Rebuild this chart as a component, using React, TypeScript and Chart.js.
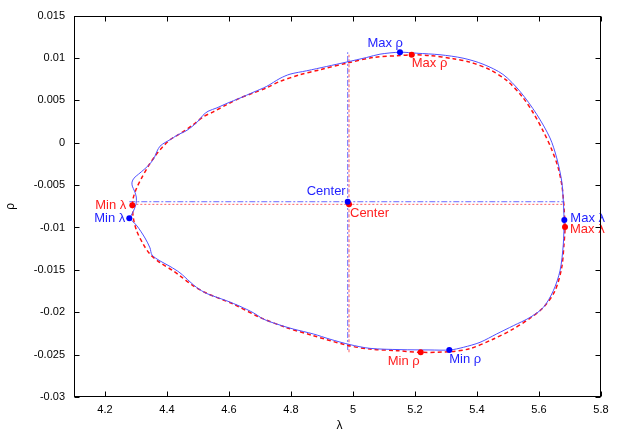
import React, { useEffect, useRef } from 'react';
import { Chart, registerables } from 'chart.js';

Chart.register(...registerables);

// ---- Data ----
const blueLambda = [
  4.2790, 4.2903, 4.3000, 4.3010, 4.2952, 4.2881, 4.2871, 4.2935, 4.3081, 4.3290,
  4.3468, 4.3597, 4.3677, 4.3774, 4.3935, 4.4097, 4.4323, 4.4645, 4.4968, 4.5161,
  4.5323, 4.5613, 4.5935, 4.6355, 4.6774, 4.7216, 4.7645, 4.7968, 4.8506, 4.9152,
  4.9806, 5.0442, 5.0871, 5.1516, 5.2055, 5.2806, 5.3548, 5.4194, 5.4839, 5.5387,
  5.5926, 5.6355, 5.6571, 5.6732, 5.6784, 5.6806, 5.6784, 5.6677, 5.6461, 5.6139,
  5.5710, 5.5171, 5.4635, 5.4097, 5.3558, 5.3129, 5.2484, 5.1516, 5.0548, 4.9903,
  4.9258, 4.8719, 4.8074, 4.7539, 4.7106, 4.6784, 4.6355, 4.5926, 4.5281, 4.4958,
  4.4742, 4.4419, 4.4097, 4.3774, 4.3516, 4.3452, 4.3290, 4.3032, 4.2790,
];
const blueRho = [
  -0.00890, -0.00818, -0.00724, -0.00641, -0.00571, -0.00512, -0.00465, -0.00418, -0.00371, -0.00306,
  -0.00241, -0.00171, -0.00100, -0.00041, 0.00002, 0.00035, 0.00088, 0.00147, 0.00241, 0.00324,
  0.00371, 0.00412, 0.00465, 0.00527, 0.00594, 0.00665, 0.00759, 0.00809, 0.00849, 0.00900,
  0.00953, 0.01006, 0.01045, 0.01068, 0.01056, 0.01038, 0.00998, 0.00927, 0.00806, 0.00606,
  0.00335, 0.00056, -0.00179, -0.00453, -0.00688, -0.00904, -0.01198, -0.01512, -0.01747, -0.01944,
  -0.02061, -0.02159, -0.02256, -0.02355, -0.02414, -0.02445, -0.02445, -0.02441, -0.02426, -0.02382,
  -0.02318, -0.02256, -0.02198, -0.02139, -0.02080, -0.02006, -0.01930, -0.01865, -0.01779, -0.01708,
  -0.01641, -0.01535, -0.01459, -0.01394, -0.01324, -0.01241, -0.01124, -0.00982, -0.00890,
];

const redLambda = [
  4.2881, 4.2913, 4.3023, 4.3184, 4.3397, 4.3613, 4.3829, 4.4097, 4.4419, 4.4848,
  4.5171, 4.5494, 4.5926, 4.6355, 4.6784, 4.7216, 4.7645, 4.8290, 4.8935, 4.9797,
  5.0655, 5.1516, 5.1894, 5.2484, 5.3235, 5.3774, 5.4419, 5.4958, 5.5452, 5.5816,
  5.6139, 5.6410, 5.6613, 5.6742, 5.6806, 5.6839, 5.6806, 5.6732, 5.6516, 5.6139,
  5.5710, 5.5129, 5.4516, 5.3774, 5.3129, 5.2184, 5.1410, 5.0548, 4.9797, 4.8719,
  4.7861, 4.7000, 4.6139, 4.5281, 4.4848, 4.4419, 4.4203, 4.3774, 4.3452, 4.3235,
  4.3023, 4.2913, 4.2881,
];
const redRho = [
  -0.00739, -0.00649, -0.00532, -0.00414, -0.00276, -0.00159, -0.00061, 0.00035, 0.00106, 0.00214,
  0.00306, 0.00365, 0.00449, 0.00527, 0.00586, 0.00649, 0.00724, 0.00802, 0.00861, 0.00939,
  0.01006, 0.01029, 0.01038, 0.01029, 0.00991, 0.00951, 0.00861, 0.00735, 0.00547, 0.00351,
  0.00135, -0.00080, -0.00288, -0.00512, -0.00767, -0.00994, -0.01198, -0.01473, -0.01747, -0.01944,
  -0.02071, -0.02206, -0.02318, -0.02429, -0.02465, -0.02473, -0.02453, -0.02435, -0.02388, -0.02276,
  -0.02182, -0.02061, -0.01904, -0.01776, -0.01688, -0.01571, -0.01512, -0.01414, -0.01315, -0.01198,
  -0.01041, -0.00885, -0.00739,
];

// Key points: Max ρ, Min ρ, Min λ, Max λ, Center
const keyNames = ['Max ρ', 'Min ρ', 'Min λ', 'Max λ', 'Center'];
const blueKeyLambda = [5.1516, 5.3106, 4.2784, 5.6817, 4.9829];
const blueKeyRho = [0.01068, -0.02445, -0.00892, -0.00912, -0.00696];
const redKeyLambda = [5.1894, 5.2184, 4.2881, 5.6839, 4.9871];
const redKeyRho = [0.01038, -0.02473, -0.00739, -0.00994, -0.00727];

const xTicks = [4.2, 4.4, 4.6, 4.8, 5.0, 5.2, 5.4, 5.6, 5.8];
const xTickLabels = ['4.2', '4.4', '4.6', '4.8', '5', '5.2', '5.4', '5.6', '5.8'];
const yTicks = [-0.03, -0.025, -0.02, -0.015, -0.01, -0.005, 0, 0.005, 0.01, 0.015];
const yTickLabels = ['-0.03', '-0.025', '-0.02', '-0.015', '-0.01', '-0.005', '0', '0.005', '0.01', '0.015'];

const xTitle = 'λ';
const yTitle = 'ρ';

// ---- Styles ----
const FONT = '"Liberation Sans", Arial, Helvetica, sans-serif';
const BLUE_LINE = 'rgb(80,80,255)';
const BLUE_PT = '#0000ff';
const BLUE_TXT = '#1f1fff';
const RED_LINE = '#ff1010';
const RED_PT = '#ff0000';
const RED_TXT = '#ff2020';

// label offsets in pixels relative to each key point [dx, dy, align]
const blueLabelOffsets: [number, number, CanvasTextAlign][] = [
  [3, -9, 'right'],
  [0, 9, 'left'],
  [-4, 0, 'right'],
  [6, -2, 'left'],
  [-2, -10, 'right'],
];
const redLabelOffsets: [number, number, CanvasTextAlign][] = [
  [0, 9, 'left'],
  [-1, 9, 'right'],
  [-6, 0, 'right'],
  [5, 2, 'left'],
  [1, 9, 'left'],
];

const zip = (xs: number[], ys: number[]) => xs.map((x, i) => ({ x, y: ys[i] }));

const framePlugin = {
  id: 'frame',
  afterDatasetsDraw(chart: any) {
    const { ctx, scales } = chart;
    const x = scales.x;
    const y = scales.y;
    ctx.save();
    ctx.font = `13px ${FONT}`;
    ctx.textBaseline = 'middle';
    const drawLabels = (
      lam: number[], rho: number[], offs: [number, number, CanvasTextAlign][], color: string
    ) => {
      ctx.fillStyle = color;
      keyNames.forEach((name, i) => {
        const px = x.getPixelForValue(lam[i]);
        const py = y.getPixelForValue(rho[i]);
        ctx.textAlign = offs[i][2];
        ctx.fillText(name, px + offs[i][0], py + offs[i][1]);
      });
    };
    drawLabels(blueKeyLambda, blueKeyRho, blueLabelOffsets, BLUE_TXT);
    drawLabels(redKeyLambda, redKeyRho, redLabelOffsets, RED_TXT);
    ctx.restore();
  },
  afterDraw(chart: any) {
    const { ctx, chartArea: a, scales } = chart;
    const x = scales.x;
    const y = scales.y;
    ctx.save();
    ctx.strokeStyle = '#000';
    ctx.lineWidth = 1;
    const L = Math.round(a.left) + 0.5;
    const R = Math.round(a.right) - 0.5;
    const T = Math.round(a.top) + 0.5;
    const B = Math.round(a.bottom) - 0.5;
    ctx.strokeRect(L, T, R - L, B - T);
    const TL = 5;
    ctx.beginPath();
    xTicks.forEach((v) => {
      const px = Math.round(x.getPixelForValue(v)) + 0.5;
      ctx.moveTo(px, B); ctx.lineTo(px, B - TL);
      ctx.moveTo(px, T); ctx.lineTo(px, T + TL);
    });
    yTicks.forEach((v) => {
      const py = Math.round(y.getPixelForValue(v)) + 0.5;
      ctx.moveTo(L, py); ctx.lineTo(L + TL, py);
      ctx.moveTo(R, py); ctx.lineTo(R - TL, py);
    });
    ctx.stroke();

    // axis titles
    ctx.fillStyle = '#000';
    ctx.font = `12px ${FONT}`;
    ctx.textAlign = 'center';
    ctx.textBaseline = 'middle';
    ctx.fillText(xTitle, (a.left + a.right) / 2 + 2, 426);
    ctx.save();
    ctx.translate(11, (a.top + a.bottom) / 2);
    ctx.rotate(-Math.PI / 2);
    ctx.fillText(yTitle, 0, 0);
    ctx.restore();
    ctx.restore();
  },
};

export default function App() {
  const ref = useRef<HTMLCanvasElement>(null);
  useEffect(() => {
    const canvas = ref.current!;
    const C = 4; // center index
    const datasets: any[] = [
      {
        data: zip(blueKeyLambda, blueKeyRho),
        showLine: false, pointRadius: 3, pointBackgroundColor: BLUE_PT, pointBorderColor: BLUE_PT, pointBorderWidth: 0,
      },
      {
        data: zip(redKeyLambda, redKeyRho),
        showLine: false, pointRadius: 3, pointBackgroundColor: RED_PT, pointBorderColor: RED_PT, pointBorderWidth: 0,
      },
      {
        data: zip(blueLambda, blueRho),
        showLine: true, borderColor: BLUE_LINE, borderWidth: 1, pointRadius: 0, tension: 0.3, fill: false,
      },
      {
        data: zip(redLambda, redRho),
        showLine: true, borderColor: RED_LINE, borderWidth: 1.5, borderDash: [4, 3], pointRadius: 0, tension: 0.3, fill: false,
      },
      // blue crosshair
      {
        data: [{ x: blueKeyLambda[2], y: blueKeyRho[C] }, { x: blueKeyLambda[3], y: blueKeyRho[C] }],
        showLine: true, borderColor: 'rgba(80,80,255,0.85)', borderWidth: 1, borderDash: [6, 2, 2, 2], pointRadius: 0,
      },
      {
        data: [{ x: blueKeyLambda[C], y: blueKeyRho[1] }, { x: blueKeyLambda[C], y: blueKeyRho[0] }],
        showLine: true, borderColor: 'rgba(80,80,255,0.85)', borderWidth: 1, borderDash: [6, 2, 2, 2], pointRadius: 0,
      },
      // red crosshair
      {
        data: [{ x: redKeyLambda[2], y: redKeyRho[C] }, { x: redKeyLambda[3], y: redKeyRho[C] }],
        showLine: true, borderColor: 'rgba(255,70,70,0.85)', borderWidth: 1, borderDash: [2, 2], pointRadius: 0,
      },
      {
        data: [{ x: redKeyLambda[C], y: redKeyRho[1] }, { x: redKeyLambda[C], y: redKeyRho[0] }],
        showLine: true, borderColor: 'rgba(255,90,90,0.75)', borderWidth: 1.3, borderDash: [3, 2], pointRadius: 0,
      },
    ];

    const findLabel = (ticks: number[], labels: string[], v: number) => {
      const i = ticks.findIndex((t) => Math.abs(t - v) < 1e-9);
      return i >= 0 ? labels[i] : '';
    };

    const chart = new Chart(canvas, {
      type: 'scatter',
      data: { datasets },
      options: {
        animation: false,
        responsive: false,
        maintainAspectRatio: false,
        layout: { padding: { left: 0, top: 14, right: 22, bottom: 0 } },
        plugins: { legend: { display: false }, tooltip: { enabled: false } },
        scales: {
          x: {
            type: 'linear',
            min: 4.1,
            max: 5.8,
            afterFit: (s: any) => { s.height = 39; },
            afterBuildTicks: (s: any) => { s.ticks = xTicks.map((v) => ({ value: v })); },
            grid: { display: false, drawTicks: false },
            border: { display: false },
            ticks: {
              padding: 6,
              color: '#000',
              font: { family: FONT, size: 11 },
              autoSkip: false,
              maxRotation: 0,
              minRotation: 0,
              callback: (v: any) => findLabel(xTicks, xTickLabels, Number(v)),
            },
          },
          y: {
            type: 'linear',
            min: -0.03,
            max: 0.015,
            afterFit: (s: any) => { s.width = 74; },
            afterBuildTicks: (s: any) => { s.ticks = yTicks.map((v) => ({ value: v })); },
            grid: { display: false, drawTicks: false },
            border: { display: false },
            ticks: {
              padding: 9,
              color: '#000',
              font: { family: FONT, size: 11 },
              autoSkip: false,
              callback: (v: any) => findLabel(yTicks, yTickLabels, Number(v)),
            },
          },
        },
      },
      plugins: [framePlugin],
    } as any);
    return () => chart.destroy();
  }, []);

  return (
    <div style={{ position: 'fixed', left: 0, top: 0, width: 623, height: 436, background: '#fff' }}>
      <canvas ref={ref} width={623} height={436} style={{ display: 'block', width: 623, height: 436 }} />
    </div>
  );
}
